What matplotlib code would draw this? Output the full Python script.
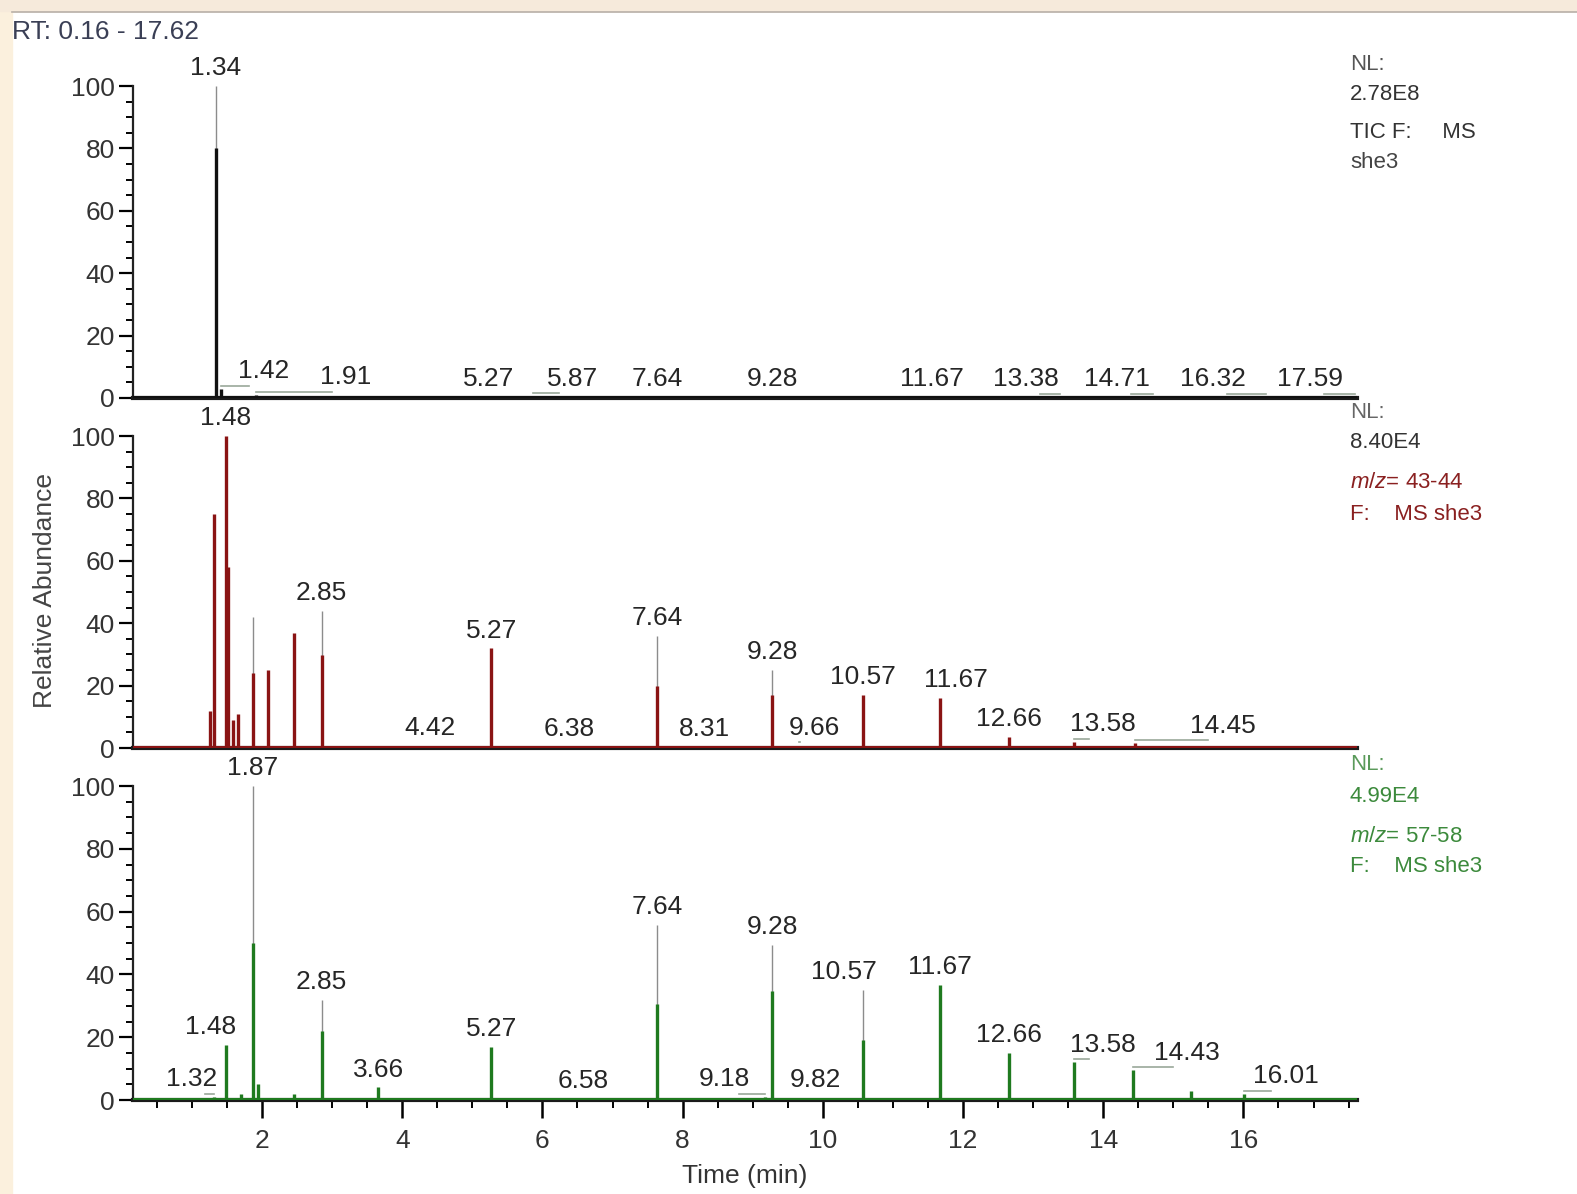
import matplotlib
matplotlib.use("Agg")
import matplotlib.pyplot as plt
from matplotlib.patches import Rectangle
from matplotlib.ticker import MultipleLocator

plt.rcParams['font.family'] = ['Liberation Sans Narrow', 'Liberation Sans', 'DejaVu Sans']
plt.rcParams['mathtext.fontset'] = 'custom'
plt.rcParams['mathtext.it'] = 'Liberation Sans:italic'
plt.rcParams['mathtext.rm'] = 'Liberation Sans'

# retention times (min) and relative abundance (%)
tic_rt = [1.34, 1.42, 1.91, 5.27, 5.87, 7.64, 9.28, 11.67, 13.38, 14.71, 16.32, 17.59]
tic_ab = [100, 3, 1, 0.6, 0.5, 0.6, 0.6, 0.5, 0.4, 0.4, 0.4, 0.4]
tic_lab = ["1.34", "1.42", "1.91", "5.27", "5.87", "7.64", "9.28", "11.67", "13.38", "14.71", "16.32", "17.59"]

mz43_rt = [1.26, 1.31, 1.48, 1.52, 1.58, 1.66, 1.87, 2.09, 2.45, 2.85, 4.42, 5.27, 6.38,
           7.64, 8.31, 9.28, 9.66, 10.57, 11.67, 12.66, 13.58, 14.45]
mz43_ab = [12, 75, 100, 58, 9, 11, 42, 25, 37, 44, 0.8, 32, 0.6,
           36, 0.6, 25, 0.8, 17, 16, 3.5, 2, 1.5]
mz43_lab = {1.48: "1.48", 2.85: "2.85", 4.42: "4.42", 5.27: "5.27", 6.38: "6.38", 7.64: "7.64",
            8.31: "8.31", 9.28: "9.28", 9.66: "9.66", 10.57: "10.57", 11.67: "11.67",
            12.66: "12.66", 13.58: "13.58", 14.45: "14.45"}

mz57_rt = [1.32, 1.48, 1.70, 1.87, 1.95, 2.45, 2.85, 3.66, 5.27, 6.58, 7.64, 9.18, 9.28,
           9.82, 10.57, 11.67, 12.66, 13.58, 14.43, 15.25, 16.01]
mz57_ab = [1, 17.5, 2, 100, 5, 2, 32, 4, 17, 0.5, 55.7, 1, 49.4,
           0.6, 35, 36.6, 15, 12, 9.5, 3, 2]
mz57_lab = {1.32: "1.32", 1.48: "1.48", 1.87: "1.87", 2.85: "2.85", 3.66: "3.66", 5.27: "5.27",
            6.58: "6.58", 7.64: "7.64", 9.18: "9.18", 9.28: "9.28", 9.82: "9.82", 10.57: "10.57",
            11.67: "11.67", 12.66: "12.66", 13.58: "13.58", 14.43: "14.43", 16.01: "16.01"}

# where the software moved a label sideways to avoid overlaps (label x in min)
tic_label_x = {1.42: 2.02, 1.91: 3.2, 5.27: 5.24, 5.87: 6.43, 11.67: 11.56, 13.38: 12.9,
               14.71: 14.2, 16.32: 15.57, 17.59: 16.95}
mz43_label_x = {4.42: 4.39, 9.66: 9.88, 11.67: 11.9, 13.58: 14.0, 14.45: 15.7}
mz57_label_x = {1.32: 0.99, 1.48: 1.26, 9.18: 8.6, 9.82: 9.9, 10.57: 10.3, 13.58: 14.0,
                14.43: 15.2, 16.01: 16.6}

# very sharp apexes render as a thin grey line; fraction of the peak drawn solid
tic_solid = {1.34: 0.8}
mz43_solid = {1.87: 0.57, 2.85: 0.68, 7.64: 0.55, 9.28: 0.68}
mz57_solid = {1.87: 0.5, 2.85: 0.69, 7.64: 0.55, 9.28: 0.7, 10.57: 0.55}

fig = plt.figure(figsize=(15.77, 11.94), dpi=100, facecolor="white")
# beige frame of the screenshot
fig.patches.append(Rectangle((0, 0), 12 / 1577, 1, transform=fig.transFigure, color="#FBF0DD", zorder=0))
fig.patches.append(Rectangle((0, 1 - 11 / 1194), 1, 11 / 1194, transform=fig.transFigure, color="#F6EADB", zorder=0))
fig.add_artist(plt.Line2D([12 / 1577, 1], [1 - 11.5 / 1194] * 2, transform=fig.transFigure, color="#b8b0a8", lw=1.2))

left, width = 133 / 1577, (1357 - 133) / 1577
panels = [
    (1 - 398 / 1194, 312 / 1194, tic_rt, tic_ab, dict(zip(tic_rt, tic_lab)), tic_label_x, tic_solid, "#111111"),
    (1 - 748 / 1194, 312 / 1194, mz43_rt, mz43_ab, mz43_lab, mz43_label_x, mz43_solid, "#8a1414"),
    (1 - 1100 / 1194, 314 / 1194, mz57_rt, mz57_ab, mz57_lab, mz57_label_x, mz57_solid, "#1f7a1f"),
]

axes = []
for i, (bot, h, rts, abund, labs, lab_x, solid, col) in enumerate(panels):
    ax = fig.add_axes([left, bot, width, h])
    ax.set_facecolor("none")
    ax.set_xlim(0.16, 17.62)
    ax.set_ylim(0, 100)
    for s in ["top", "right"]:
        ax.spines[s].set_visible(False)
    ax.spines["left"].set_linewidth(1.6)
    ax.spines["left"].set_color("#222222")
    ax.spines["bottom"].set_linewidth(3)
    ax.spines["bottom"].set_color("#1a1a1a")
    ax.set_yticks([0, 20, 40, 60, 80, 100])
    ax.yaxis.set_minor_locator(MultipleLocator(5))
    ax.tick_params(axis="y", which="major", direction="out", length=10, width=1.6,
                   labelsize=19, labelcolor="#333333", pad=3)
    ax.tick_params(axis="y", which="minor", direction="out", length=5, width=1.4)
    if i < 2:
        ax.tick_params(axis="x", which="both", bottom=False, labelbottom=False)
    else:
        ax.set_xticks(range(2, 17, 2))
        ax.xaxis.set_minor_locator(MultipleLocator(0.5))
        ax.tick_params(axis="x", which="major", direction="out", length=13, width=1.8,
                       labelsize=19, labelcolor="#333333", pad=8)
        ax.tick_params(axis="x", which="minor", direction="out", length=6, width=1.4)

    for rt, a in zip(rts, abund):
        f = solid.get(rt, 1.0)
        if f < 1:
            ax.vlines(rt, 0, a, color="#8c8c8c", lw=1.0, zorder=2)
        ax.vlines(rt, 0, a * f, color=col, lw=2.4, zorder=3)
    ax.axhline(0.4, color=col, lw=1.5, zorder=3)

    for rt, a in zip(rts, abund):
        if rt not in labs:
            continue
        lx = lab_x.get(rt, rt)
        ax.text(lx, a + 1.8, labs[rt], ha="center", va="bottom", fontsize=19,
                color="#262626", clip_on=False, zorder=5)
        if abs(lx - rt) > 0.2 and a < 15:
            ax.plot([rt, lx - 0.2 * (1 if lx > rt else -1)], [a + 1.0, a + 1.0],
                    color="#9aa89a", lw=1.2, zorder=4)
    axes.append(ax)

axes[2].set_xlabel("Time (min)", fontsize=19, color="#333333", labelpad=8)
fig.text(45 / 1577, 1 - 590 / 1194, "Relative Abundance", rotation=90, fontsize=19,
         color="#444444", ha="center", va="center")
fig.text(12 / 1577, 1 - 32 / 1194, "RT: 0.16 - 17.62", fontsize=19, color="#3a3f55",
         ha="left", va="center")

nx = 1350 / 1577
info = [
    (64, "NL:", "#555555"), (95, "2.78E8", "#333333"), (133, "TIC F:     MS", "#333333"),
    (163, "she3", "#444444"),
    (412, "NL:", "#666666"), (443, "8.40E4", "#333333"), (482, r"$\it{m/z}$= 43-44", "#8a2020"),
    (514, "F:    MS she3", "#8a2020"),
    (765, "NL:", "#5a9a5a"), (796, "4.99E4", "#3c8a3c"), (836, r"$\it{m/z}$= 57-58", "#3c8a3c"),
    (866, "F:    MS she3", "#3c8a3c"),
]
for y, t, c in info:
    fig.text(nx, 1 - y / 1194, t, fontsize=16, color=c, ha="left", va="center",
             family=["Liberation Sans", "DejaVu Sans"])

fig.savefig("out.png", dpi=100, facecolor=fig.get_facecolor())
